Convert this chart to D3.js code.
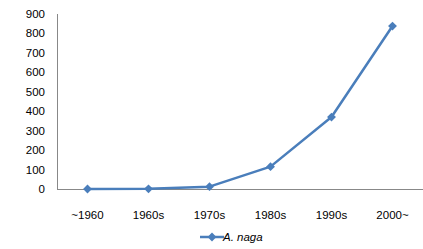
<!DOCTYPE html>
<html>
<head>
<meta charset="utf-8">
<script src="https://cdn.jsdelivr.net/npm/d3@7"></script>
<style>
  body { margin: 0; background: #fff; }
  svg text { font-family: "Liberation Sans", "DejaVu Sans", sans-serif; fill: #000; }
</style>
</head>
<body>
<svg id="chart" width="423" height="249"></svg>
<script>
// chart data
var categories = ['~1960', '1960s', '1970s', '1980s', '1990s', '2000~'];
var counts = [0, 1, 12, 115, 370, 838];
var yTicks = [0, 100, 200, 300, 400, 500, 600, 700, 800, 900];
var seriesName = 'A. naga';

var color = '#4a7ebb';
var axisColor = '#888';

var svg = d3.select('#chart');
var plot = { left: 57, right: 423, top: 14, bottom: 189 };

var x = d3.scaleBand().domain(categories).range([plot.left, plot.right]);
var y = d3.scaleLinear().domain([0, 900]).range([plot.bottom, plot.top]);

// axes (plain lines, like the excel look)
svg.append('line')
    .attr('x1', plot.left + 0.5).attr('x2', plot.left + 0.5)
    .attr('y1', plot.top).attr('y2', plot.bottom)
    .attr('stroke', axisColor).attr('stroke-width', 1);
svg.append('line')
    .attr('x1', plot.left).attr('x2', plot.right)
    .attr('y1', plot.bottom + 0.5).attr('y2', plot.bottom + 0.5)
    .attr('stroke', axisColor).attr('stroke-width', 1);

svg.append('g')
    .attr('font-size', 11.5)
    .attr('text-anchor', 'end')
    .selectAll('text')
    .data(yTicks)
    .join('text')
    .attr('x', 45)
    .attr('y', d => y(d))
    .attr('dy', '0.35em')
    .text(d => d);

svg.append('g')
    .attr('font-size', 11.5)
    .attr('text-anchor', 'middle')
    .selectAll('text')
    .data(categories)
    .join('text')
    .attr('x', d => x(d) + x.bandwidth() / 2)
    .attr('y', 215)
    .attr('dy', '0.35em')
    .text(d => d);

var cx = d => x(d) + x.bandwidth() / 2;
var pts = categories.map((c, i) => [cx(c), y(counts[i])]);

svg.append('path')
    .datum(pts)
    .attr('fill', 'none')
    .attr('stroke', color)
    .attr('stroke-width', 2.5)
    .attr('stroke-linejoin', 'round')
    .attr('d', d3.line());

var diamond = d3.symbol().type(d3.symbolDiamond2).size(50);
svg.append('g')
    .selectAll('path')
    .data(pts)
    .join('path')
    .attr('transform', d => `translate(${d[0]},${d[1]})`)
    .attr('fill', color)
    .attr('d', diamond);

// legend
var lg = svg.append('g').attr('transform', 'translate(200,237)');
lg.append('line')
    .attr('x1', 0).attr('x2', 24)
    .attr('stroke', color).attr('stroke-width', 2.5);
lg.append('path')
    .attr('transform', 'translate(12,0)')
    .attr('fill', color)
    .attr('d', diamond);
lg.append('text')
    .attr('x', 23)
    .attr('dy', '0.35em')
    .attr('font-size', 11.5)
    .attr('font-style', 'italic')
    .text(seriesName);
</script>
</body>
</html>
